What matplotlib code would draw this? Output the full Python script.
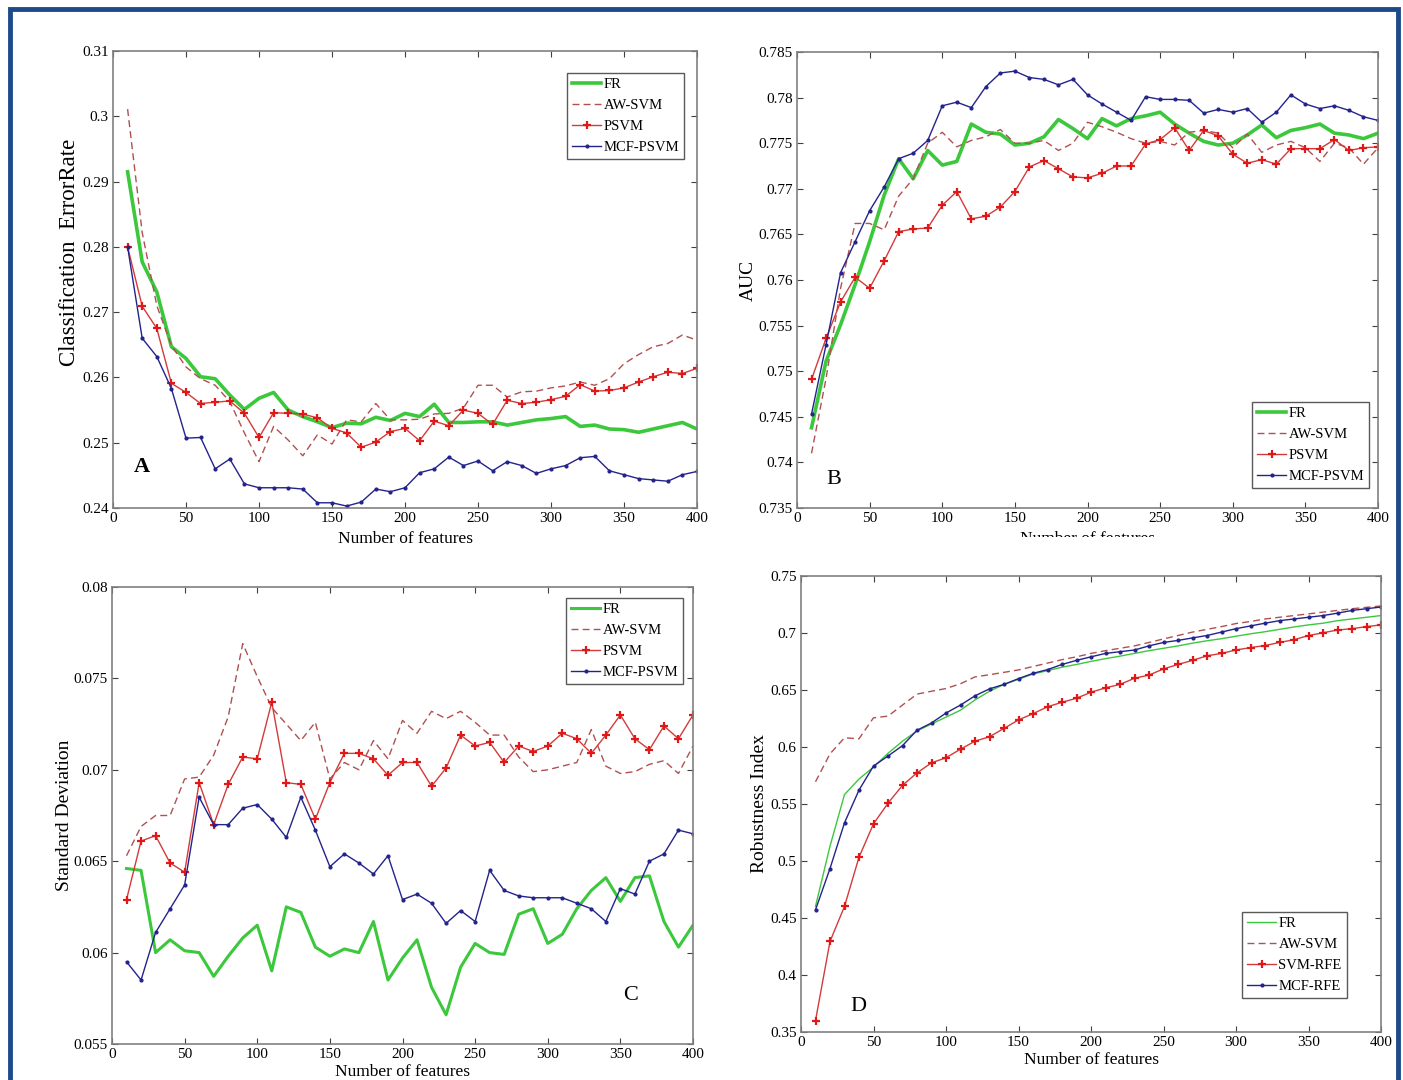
import matplotlib
matplotlib.use("Agg")
import matplotlib.pyplot as plt
from matplotlib.patches import Rectangle
from matplotlib.transforms import Bbox
import numpy as np

plt.rcParams['font.family'] = ['Liberation Serif', 'DejaVu Serif']

# ---------------- data ----------------
features = list(range(10, 401, 10))

# Panel A: classification error rate
A_FR = [0.2915, 0.2777, 0.2731, 0.2647, 0.2629, 0.2601, 0.2598, 0.2573, 0.2551, 0.2568,
        0.2577, 0.2550, 0.2540, 0.2532, 0.2523, 0.2530, 0.2529, 0.2539, 0.2534, 0.2545,
        0.2540, 0.2559, 0.2531, 0.2531, 0.2532, 0.2532, 0.2527, 0.2531, 0.2535, 0.2537,
        0.2540, 0.2525, 0.2527, 0.2521, 0.2520, 0.2516, 0.2521, 0.2526, 0.2531, 0.2521]
A_AW = [0.3011, 0.2822, 0.2710, 0.2649, 0.2616, 0.2598, 0.2588, 0.2563, 0.2515, 0.2471,
        0.2525, 0.2504, 0.2480, 0.2512, 0.2498, 0.2535, 0.2532, 0.2560, 0.2535, 0.2535,
        0.2536, 0.2544, 0.2545, 0.2553, 0.2588, 0.2588, 0.2570, 0.2578, 0.2579, 0.2584,
        0.2587, 0.2593, 0.2588, 0.2598, 0.2621, 0.2635, 0.2647, 0.2652, 0.2665, 0.2657]
A_PSVM = [0.2800, 0.2709, 0.2675, 0.2591, 0.2577, 0.2560, 0.2562, 0.2564, 0.2545, 0.2508,
          0.2546, 0.2545, 0.2544, 0.2538, 0.2522, 0.2515, 0.2493, 0.2501, 0.2517, 0.2522,
          0.2503, 0.2533, 0.2526, 0.2550, 0.2545, 0.2528, 0.2565, 0.2560, 0.2562, 0.2566,
          0.2571, 0.2589, 0.2579, 0.2580, 0.2584, 0.2593, 0.2601, 0.2608, 0.2606, 0.2614]
A_MCF = [0.2800, 0.2660, 0.2632, 0.2583, 0.2507, 0.2508, 0.2460, 0.2475, 0.2437, 0.2431,
         0.2431, 0.2431, 0.2429, 0.2408, 0.2408, 0.2403, 0.2409, 0.2429, 0.2425, 0.2431,
         0.2454, 0.2460, 0.2478, 0.2465, 0.2472, 0.2457, 0.2471, 0.2465, 0.2453, 0.2460,
         0.2465, 0.2477, 0.2479, 0.2457, 0.2451, 0.2445, 0.2443, 0.2441, 0.2451, 0.2456]

# Panel B: AUC
B_FR = [0.7438, 0.7511, 0.7551, 0.7595, 0.7642, 0.7693, 0.7733, 0.7711, 0.7742, 0.7726,
        0.7730, 0.7771, 0.7762, 0.7760, 0.7748, 0.7750, 0.7757, 0.7776, 0.7766, 0.7755,
        0.7777, 0.7769, 0.7777, 0.7780, 0.7784, 0.7771, 0.7761, 0.7752, 0.7748, 0.7750,
        0.7759, 0.7770, 0.7756, 0.7764, 0.7767, 0.7771, 0.7761, 0.7759, 0.7755, 0.7761]
B_AW = [0.7410, 0.7492, 0.7591, 0.7662, 0.7662, 0.7655, 0.7692, 0.7711, 0.7750, 0.7762,
        0.7746, 0.7753, 0.7757, 0.7765, 0.7750, 0.7750, 0.7753, 0.7742, 0.7750, 0.7773,
        0.7768, 0.7762, 0.7755, 0.7750, 0.7752, 0.7748, 0.7762, 0.7764, 0.7761, 0.7745,
        0.7760, 0.7740, 0.7748, 0.7752, 0.7745, 0.7730, 0.7750, 0.7745, 0.7727, 0.7745]
B_PSVM = [0.7491, 0.7536, 0.7576, 0.7603, 0.7591, 0.7621, 0.7653, 0.7656, 0.7657, 0.7682,
          0.7697, 0.7667, 0.7670, 0.7680, 0.7697, 0.7724, 0.7731, 0.7722, 0.7713, 0.7712,
          0.7717, 0.7725, 0.7725, 0.7749, 0.7754, 0.7767, 0.7742, 0.7764, 0.7758, 0.7738,
          0.7728, 0.7732, 0.7727, 0.7744, 0.7744, 0.7744, 0.7754, 0.7742, 0.7745, 0.7746]
B_MCF = [0.7453, 0.7529, 0.7608, 0.7642, 0.7676, 0.7702, 0.7733, 0.7739, 0.7753, 0.7791,
         0.7795, 0.7789, 0.7812, 0.7827, 0.7829, 0.7822, 0.7820, 0.7814, 0.7820, 0.7803,
         0.7793, 0.7784, 0.7775, 0.7801, 0.7798, 0.7798, 0.7797, 0.7783, 0.7787, 0.7784,
         0.7788, 0.7773, 0.7784, 0.7803, 0.7793, 0.7788, 0.7791, 0.7786, 0.7779, 0.7775]

# Panel C: standard deviation
C_FR = [0.0646, 0.0645, 0.0600, 0.0607, 0.0601, 0.0600, 0.0587, 0.0598, 0.0608, 0.0615,
        0.0590, 0.0625, 0.0622, 0.0603, 0.0598, 0.0602, 0.0600, 0.0617, 0.0585, 0.0597,
        0.0607, 0.0581, 0.0566, 0.0592, 0.0605, 0.0600, 0.0599, 0.0621, 0.0624, 0.0605,
        0.0610, 0.0624, 0.0634, 0.0641, 0.0628, 0.0641, 0.0642, 0.0617, 0.0603, 0.0615]
C_AW = [0.0653, 0.0669, 0.0675, 0.0675, 0.0695, 0.0696, 0.0708, 0.0729, 0.0769, 0.0751,
        0.0734, 0.0725, 0.0716, 0.0726, 0.0695, 0.0704, 0.0700, 0.0716, 0.0706, 0.0727,
        0.0720, 0.0732, 0.0728, 0.0732, 0.0726, 0.0719, 0.0719, 0.0707, 0.0699, 0.0700,
        0.0702, 0.0704, 0.0722, 0.0702, 0.0698, 0.0699, 0.0703, 0.0705, 0.0698, 0.0713]
C_PSVM = [0.0629, 0.0661, 0.0664, 0.0649, 0.0644, 0.0693, 0.0670, 0.0692, 0.0707, 0.0706,
          0.0737, 0.0693, 0.0692, 0.0673, 0.0693, 0.0709, 0.0709, 0.0706, 0.0697, 0.0704,
          0.0704, 0.0691, 0.0701, 0.0719, 0.0713, 0.0715, 0.0704, 0.0713, 0.0710, 0.0713,
          0.0720, 0.0717, 0.0709, 0.0719, 0.0730, 0.0717, 0.0711, 0.0724, 0.0717, 0.0730]
C_MCF = [0.0595, 0.0585, 0.0611, 0.0624, 0.0637, 0.0685, 0.0670, 0.0670, 0.0679, 0.0681,
         0.0673, 0.0663, 0.0685, 0.0667, 0.0647, 0.0654, 0.0649, 0.0643, 0.0653, 0.0629,
         0.0632, 0.0627, 0.0616, 0.0623, 0.0617, 0.0645, 0.0634, 0.0631, 0.0630, 0.0630,
         0.0630, 0.0627, 0.0624, 0.0617, 0.0635, 0.0632, 0.0650, 0.0654, 0.0667, 0.0665]

# Panel D: robustness index
D_FR = [0.4602, 0.5130, 0.5583, 0.5719, 0.5824, 0.5945, 0.6051, 0.6141, 0.6202, 0.6262,
        0.6323, 0.6413, 0.6489, 0.6549, 0.6594, 0.6640, 0.6670, 0.6700, 0.6724, 0.6751,
        0.6775, 0.6797, 0.6821, 0.6845, 0.6866, 0.6887, 0.6911, 0.6932, 0.6950, 0.6972,
        0.6993, 0.7011, 0.7032, 0.7053, 0.7071, 0.7086, 0.7108, 0.7123, 0.7138, 0.7153]
D_AW = [0.5695, 0.5940, 0.6081, 0.6072, 0.6256, 0.6271, 0.6368, 0.6464, 0.6489, 0.6513,
        0.6555, 0.6615, 0.6634, 0.6655, 0.6676, 0.6706, 0.6736, 0.6766, 0.6791, 0.6821,
        0.6845, 0.6866, 0.6887, 0.6917, 0.6948, 0.6978, 0.7008, 0.7032, 0.7056, 0.7083,
        0.7101, 0.7123, 0.7138, 0.7153, 0.7168, 0.7183, 0.7198, 0.7213, 0.7225, 0.7237]
D_SVMRFE = [0.3600, 0.4294, 0.4602, 0.5033, 0.5326, 0.5507, 0.5664, 0.5773, 0.5861, 0.5906,
            0.5981, 0.6051, 0.6090, 0.6163, 0.6238, 0.6292, 0.6353, 0.6392, 0.6428, 0.6480,
            0.6519, 0.6549, 0.6603, 0.6631, 0.6685, 0.6724, 0.6760, 0.6800, 0.6821, 0.6851,
            0.6872, 0.6890, 0.6917, 0.6941, 0.6978, 0.7002, 0.7026, 0.7038, 0.7056, 0.7071]
D_MCF = [0.4572, 0.4934, 0.5335, 0.5622, 0.5833, 0.5921, 0.6012, 0.6147, 0.6211, 0.6298,
         0.6368, 0.6449, 0.6510, 0.6549, 0.6600, 0.6646, 0.6679, 0.6724, 0.6760, 0.6791,
         0.6821, 0.6836, 0.6851, 0.6887, 0.6917, 0.6935, 0.6957, 0.6978, 0.7008, 0.7038,
         0.7062, 0.7086, 0.7108, 0.7123, 0.7138, 0.7153, 0.7174, 0.7198, 0.7213, 0.7228]

x_ticks = [0, 50, 100, 150, 200, 250, 300, 350, 400]
A_yticks = [0.24, 0.25, 0.26, 0.27, 0.28, 0.29, 0.30, 0.31]
A_ylabels = ['0.24', '0.25', '0.26', '0.27', '0.28', '0.29', '0.3', '0.31']
B_yticks = [0.735, 0.74, 0.745, 0.75, 0.755, 0.76, 0.765, 0.77, 0.775, 0.78, 0.785]
B_ylabels = ['0.735', '0.74', '0.745', '0.75', '0.755', '0.76', '0.765', '0.77', '0.775', '0.78', '0.785']
C_yticks = [0.055, 0.06, 0.065, 0.07, 0.075, 0.08]
C_ylabels = ['0.055', '0.06', '0.065', '0.07', '0.075', '0.08']
D_yticks = [0.35, 0.4, 0.45, 0.5, 0.55, 0.6, 0.65, 0.7, 0.75]
D_ylabels = ['0.35', '0.4', '0.45', '0.5', '0.55', '0.6', '0.65', '0.7', '0.75']

names_abc = ['FR', 'AW-SVM', 'PSVM', 'MCF-PSVM']
names_d = ['FR', 'AW-SVM', 'SVM-RFE', 'MCF-RFE']

# ---------------- styling ----------------
W, H = 1403, 1080
fig = plt.figure(figsize=(W / 100, H / 100), dpi=100)

GREEN = '#3cc83c'
AWC = '#b05050'
RED = '#d43a3a'
BLUE = '#23238c'
SPINE = '#808080'


def px_axes(l, t, r, b):
    return fig.add_axes([l / W, 1 - b / H, (r - l) / W, (b - t) / H])


def style(ax, yticks, ylabels, ylim):
    ax.set_xlim(0, 400)
    ax.set_ylim(*ylim)
    ax.set_xticks(x_ticks)
    ax.set_xticklabels([str(v) for v in x_ticks])
    ax.set_yticks(yticks)
    ax.set_yticklabels(ylabels)
    ax.tick_params(direction='in', top=True, right=True, length=4, width=0.8,
                   color='#404040', labelsize=11, pad=3)
    for s in ax.spines.values():
        s.set_color(SPINE)
        s.set_linewidth(1.2)


def plot_four(ax, fr, aw, ps, mc, names, fr_lw=2.6):
    ax.plot(features, fr, color=GREEN, lw=fr_lw, label=names[0])
    ax.plot(features, aw, color=AWC, lw=1.0, ls=(0, (5, 3)), label=names[1])
    ax.plot(features, ps, color=RED, lw=1.0, marker='+', ms=6, mew=1.6,
            mec='#e01818', label=names[2])
    ax.plot(features, mc, color=BLUE, lw=1.0, marker='.', ms=4, label=names[3])


def legend(ax, loc, anchor):
    lg = ax.legend(loc=loc, bbox_to_anchor=anchor, fontsize=10.5, frameon=True,
                   fancybox=False, edgecolor='#303030', handlelength=2.0,
                   handletextpad=0.15, borderpad=0.35, labelspacing=0.52,
                   borderaxespad=0.0)
    lg.get_frame().set_linewidth(1.0)
    return lg


# Panel A
axA = px_axes(113, 51, 697, 508)
plot_four(axA, A_FR, A_AW, A_PSVM, A_MCF, names_abc)
style(axA, A_yticks, A_ylabels, (0.24, 0.31))
axA.set_xlabel('Number of features', fontsize=12.5, labelpad=4)
axA.set_ylabel('Classification  ErrorRate', fontsize=16.5)
axA.yaxis.set_label_coords(-0.056, 0.56)
axA.text(14, 0.2455, 'A', fontsize=16, fontweight='bold')
legend(axA, 'upper left', ((567 - 113) / 584, 1 - (73 - 51) / 457))

# Panel B
axB = px_axes(797, 52, 1378, 508)
plot_four(axB, B_FR, B_AW, B_PSVM, B_MCF, names_abc)
style(axB, B_yticks, B_ylabels, (0.735, 0.785))
axB.set_ylabel('AUC', fontsize=14)
axB.yaxis.set_label_coords(-0.069, 0.5)
axB.text(20, 0.7376, 'B', fontsize=16)
legend(axB, 'upper left', ((1252 - 797) / 581, 1 - (402 - 52) / 456))
# x label of panel B is mostly hidden in the reference: show only its top part
xlB = axB.set_xlabel('Number of features', fontsize=12.5, labelpad=4)
xlB.set_clip_box(Bbox.from_extents(0, H - 537, W, H))
xlB.set_clip_on(True)

# Panel C
axC = px_axes(112, 587, 693, 1044)
plot_four(axC, C_FR, C_AW, C_PSVM, C_MCF, names_abc, fr_lw=2.2)
style(axC, C_yticks, C_ylabels, (0.055, 0.08))
axC.set_xlabel('Number of features', fontsize=12.5, labelpad=2)
axC.set_ylabel('Standard Deviation', fontsize=14)
axC.yaxis.set_label_coords(-0.067, 0.5)
axC.text(352, 0.0574, 'C', fontsize=16)
legend(axC, 'upper left', ((566 - 112) / 581, 1 - (598 - 587) / 457))

# Panel D
axD = px_axes(801, 576, 1381, 1032)
plot_four(axD, D_FR, D_AW, D_SVMRFE, D_MCF, names_d, fr_lw=1.0)
style(axD, D_yticks, D_ylabels, (0.35, 0.75))
axD.set_xlabel('Number of features', fontsize=12.5, labelpad=2)
axD.set_ylabel('Robustness Index', fontsize=14)
axD.yaxis.set_label_coords(-0.057, 0.5)
axD.text(34, 0.368, 'D', fontsize=16)
legend(axD, 'upper left', ((1242 - 801) / 580, 1 - (912 - 576) / 456))

# outer frame
fig.patches.append(Rectangle((10 / W, -0.02), (1398 - 10) / W, 1.02 - 9 / H,
                             transform=fig.transFigure, fill=False,
                             edgecolor='#1f4a8a', linewidth=3.5))

fig.savefig('out.png', dpi=100, facecolor='white')
